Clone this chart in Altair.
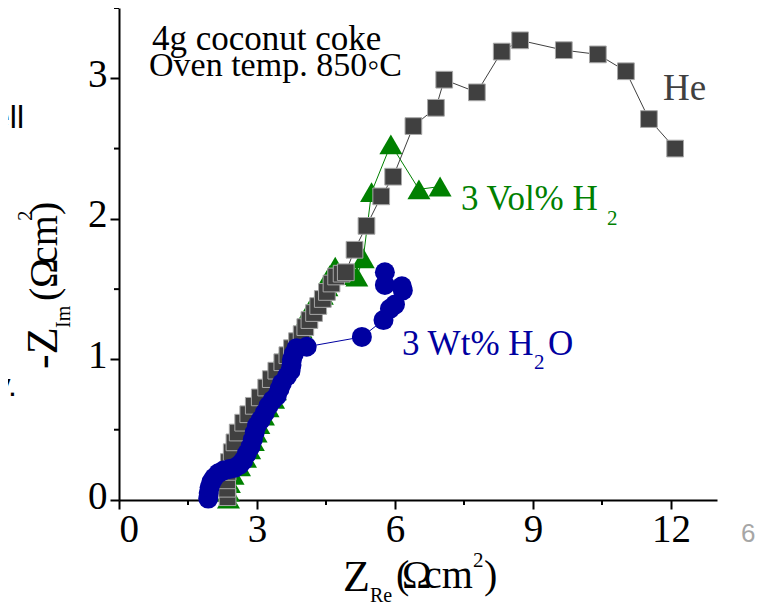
import altair as alt
import pandas as pd

# ---- data ----
he_x = [2.36, 2.35, 2.35, 2.36, 2.39, 2.45, 2.51, 2.58, 2.70, 2.81, 2.93, 3.06, 3.20, 3.30, 3.42,
        3.55, 3.66, 3.76, 3.87, 3.97, 4.05, 4.14, 4.24, 4.33, 4.43, 4.52, 4.62, 4.72, 4.84, 4.93,
        5.12, 5.38, 5.70, 5.96, 6.40, 6.89, 7.07, 7.78, 8.32, 8.72, 9.67, 10.41, 11.02, 11.52, 12.09]
he_y = [0.02, 0.08, 0.14, 0.20, 0.27, 0.34, 0.41, 0.48, 0.55, 0.61, 0.67, 0.73, 0.80, 0.86, 0.92,
        0.98, 1.03, 1.08, 1.13, 1.18, 1.23, 1.28, 1.33, 1.38, 1.43, 1.48, 1.54, 1.59, 1.61, 1.62,
        1.78, 1.95, 2.16, 2.30, 2.66, 2.79, 2.99, 2.90, 3.19, 3.27, 3.20, 3.17, 3.05, 2.71, 2.50]

h2_x = [2.38, 2.38, 2.40, 2.48, 2.62, 2.75, 2.84, 2.92, 2.98, 3.04, 3.14, 3.24, 3.36, 3.40, 3.36,
        3.38, 3.48, 3.62, 3.74, 3.86, 3.96, 4.06, 4.14, 4.28, 4.42, 4.52, 4.58, 4.70, 5.09, 5.17,
        5.31, 5.49, 5.91, 6.52, 6.98]
h2_y = [0.01, 0.06, 0.12, 0.18, 0.24, 0.30, 0.36, 0.42, 0.48, 0.54, 0.60, 0.66, 0.72, 0.78, 0.85,
        0.92, 0.98, 1.04, 1.10, 1.16, 1.22, 1.29, 1.35, 1.40, 1.46, 1.52, 1.60, 1.66, 1.60, 1.59,
        1.72, 2.19, 2.53, 2.21, 2.23]

h2o_x = [1.94, 1.95, 1.97, 2.01, 2.07, 2.16, 2.27, 2.40, 2.52, 2.62, 2.70, 2.78, 2.86, 2.91, 2.95,
         3.00, 3.08, 3.17, 3.25, 3.34, 3.43, 3.49, 3.54, 3.65, 3.73, 3.75, 3.76, 3.80, 3.86, 4.08,
         5.28, 5.75, 5.89, 6.00, 6.17, 6.15, 5.78, 5.78]
h2o_y = [0.01, 0.05, 0.09, 0.13, 0.16, 0.19, 0.21, 0.22, 0.23, 0.25, 0.28, 0.33, 0.38, 0.43, 0.48,
         0.53, 0.57, 0.62, 0.67, 0.71, 0.74, 0.79, 0.83, 0.88, 0.92, 0.96, 1.00, 1.04, 1.08, 1.09,
         1.16, 1.28, 1.36, 1.39, 1.49, 1.52, 1.53, 1.62]

x_major = [0, 3, 6, 9, 12]
x_minor = [1.5, 4.5, 7.5, 10.5]
y_major = [0, 1, 2, 3]
y_minor = [0.5, 1.5, 2.5, 3.5]

GRAY = "#404040"
GREEN = "#008000"
BLUE = "#0000A0"
SERIF = "Liberation Serif"
SANS = "Liberation Sans"

W, H = 598, 492
xs = alt.Scale(domain=[0, 13], nice=False, zero=False)
ys = alt.Scale(domain=[0, 3.5], nice=False, zero=False)


def frame(xv, yv):
    return pd.DataFrame({"x": xv, "y": yv, "order": list(range(len(xv)))})


def series(df, color, shape, size, stroke=None):
    base = alt.Chart(df)
    line = base.mark_line(color=color, strokeWidth=1).encode(
        x=alt.X("x:Q", scale=xs), y=alt.Y("y:Q", scale=ys), order="order:Q")
    kw = dict(shape=shape, filled=True, fill=color, size=size, opacity=1)
    if stroke:
        kw.update(stroke=stroke, strokeWidth=1)
    else:
        kw.update(strokeWidth=0)
    pts = base.mark_point(**kw).encode(
        x=alt.X("x:Q", scale=xs), y=alt.Y("y:Q", scale=ys))
    return [line, pts]


def txt(t, x, y, size, color="black", font=SERIF, angle=0, align="left"):
    kw = dict(font=font, fontSize=size, color=color, align=align, baseline="alphabetic")
    if angle:
        kw["angle"] = angle
    return alt.Chart(pd.DataFrame({"t": [t]})).mark_text(**kw).encode(
        x=alt.value(x), y=alt.value(y), text="t:N")


axis_common = dict(labelFont=SERIF, labelFontSize=39, labelColor="black", domainColor="black",
                   domainWidth=2, tickColor="black", tickWidth=2, tickSize=9, grid=False,
                   title=None, format="d")

axes = alt.Chart(pd.DataFrame({"x": [0], "y": [0]})).mark_point(opacity=0).encode(
    x=alt.X("x:Q", scale=xs, axis=alt.Axis(values=x_major, labelPadding=1, **axis_common)),
    y=alt.Y("y:Q", scale=ys, axis=alt.Axis(values=y_major, labelPadding=3, labelOffset=-4,
                                          **axis_common)),
)

xminor = alt.Chart(pd.DataFrame({"v": x_minor})).mark_rule(color="black", strokeWidth=2).encode(
    x=alt.X("v:Q", scale=xs), y=alt.value(H), y2=alt.value(H + 5))
yminor = alt.Chart(pd.DataFrame({"v": y_minor})).mark_rule(color="black", strokeWidth=2).encode(
    y=alt.Y("v:Q", scale=ys), x=alt.value(-5), x2=alt.value(0))

layers = [axes, xminor, yminor]
layers += series(frame(h2_x, h2_y), GREEN, "triangle-up", 529)
layers += series(frame(he_x, he_y), GRAY, "square", 280, stroke="#a8a8a8")
layers += series(frame(h2o_x, h2o_y), BLUE, "circle", 400)

texts = [
    txt("4g coconut coke", 33, 42, 35),
    txt("Oven temp. 850\u25e6C", 30, 68, 34),
    txt("He", 544, 92, 37, GRAY),
    txt("3 Vol% H", 342, 202, 35, GREEN),
    txt("2", 488, 217, 21, GREEN),
    txt("3 Wt% H", 283, 347, 35, BLUE),
    txt("2", 415, 361, 21, BLUE),
    txt("O", 429, 347, 35, BLUE),
    # x title
    txt("Z", 224, 583, 44),
    txt("Re", 251, 594, 20),
    txt("(", 277, 580, 40),
    txt("\u03a9", 283, 580, 40),
    txt("cm", 305, 580, 40),
    txt("2", 354, 559, 21),
    txt(")", 365, 580, 40),
    # y title (rotated)
    txt("-Z", -62, 361, 44, angle=270),
    txt("Im", -49, 320, 20, angle=270),
    txt("(", -62, 293, 40, angle=270),
    txt("\u03a9", -62, 280, 40, angle=270),
    txt("cm", -62, 256, 40, angle=270),
    txt("2", -87, 213, 21, angle=270),
    txt(")", -62, 207, 40, angle=270),
    # slide remnants
    txt("ell", -95, 120, 32, font=SANS, align="right"),
    txt("y.", -102, 388, 32, font=SANS, align="right"),
    txt("6", 622, 534, 26, color="#a6a6a6", font=SANS),
]

chart = alt.layer(*layers, *texts).properties(
    width=W, height=H,
    autosize=alt.AutoSizeParams(type="none"),
    padding={"left": 111, "top": 0, "right": 41, "bottom": 106},
).configure_view(stroke=None)

chart.save("out.html", embed_options={"renderer": "svg", "actions": False})
